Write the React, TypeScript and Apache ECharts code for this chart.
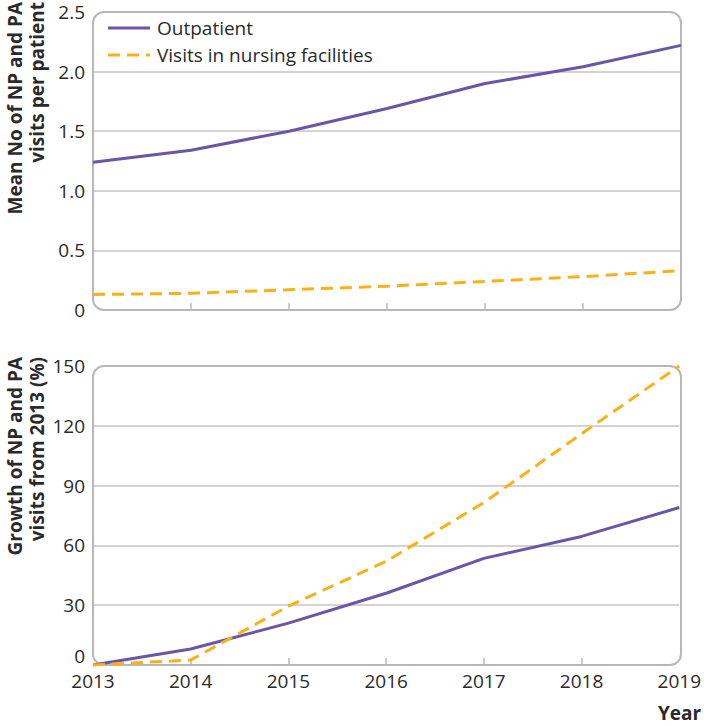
import React, { useEffect, useRef } from "react";
import * as echarts from "echarts";

const years = ["2013", "2014", "2015", "2016", "2017", "2018", "2019"];
const outpatientMean = [1.24, 1.34, 1.5, 1.69, 1.9, 2.04, 2.22];
const nursingMean = [0.13, 0.14, 0.17, 0.2, 0.24, 0.28, 0.33];
const outpatientGrowth = [0, 8, 21, 36, 53.5, 64.5, 79];
const nursingGrowth = [0, 2.5, 29.5, 52, 81.5, 116, 150];
const seriesNames = ["Outpatient", "Visits in nursing facilities"];

const PURPLE = "#6a56a8";
const ORANGE = "#fbb017";
const FRAME = "#b8b8b8";
const GRIDC = "#c4c4c4";
const TXT = "#2a2a2a";
const FONT = "'Open Sans', 'Noto Sans', sans-serif";
const FS = 19;
const DASH = [12, 7];

const G1 = { left: 93, top: 12, width: 588, height: 298 };
const G2 = { left: 93, top: 366, width: 588, height: 299 };

export default function App() {
  const ref = useRef<HTMLDivElement>(null);
  useEffect(() => {
    if (!ref.current) return;
    const chart = echarts.init(ref.current, undefined, { renderer: "svg" });
    const xAxisBase = (gridIndex: number, showLabels: boolean) => ({
      type: "category",
      gridIndex,
      data: years,
      boundaryGap: false,
      axisLine: { show: false },
      axisTick: {
        show: true,
        inside: true,
        length: 7,
        interval: (i: number) => i > 0 && i < years.length - 1,
        lineStyle: { color: FRAME, width: 1.5 },
      },
      axisLabel: {
        show: showLabels,
        color: TXT,
        fontSize: FS,
        lineHeight: FS,
        fontFamily: FONT,
        margin: 6,
        interval: 0,
      },
      splitLine: { show: false },
    });
    const splitLine = {
      show: true,
      lineStyle: { color: GRIDC, width: 1.5 },
      showMinLine: false,
      showMaxLine: false,
    };
    const option: any = {
      animation: false,
      textStyle: { fontFamily: FONT },
      grid: [
        { ...G1, containLabel: false },
        { ...G2, containLabel: false },
      ],
      xAxis: [xAxisBase(0, false), xAxisBase(1, true)],
      yAxis: [
        {
          type: "value",
          gridIndex: 0,
          min: 0,
          max: 2.5,
          interval: 0.5,
          axisLine: { show: false },
          axisTick: { show: false },
          axisLabel: {
            color: TXT,
            fontSize: FS,
            lineHeight: FS,
            fontFamily: FONT,
            margin: 8,
            formatter: (v: number) => (v === 0 ? "0" : v.toFixed(1)),
          },
          splitLine,
        },
        {
          type: "value",
          gridIndex: 1,
          min: 0,
          max: 150,
          interval: 30,
          axisLine: { show: false },
          axisTick: { show: false },
          axisLabel: {
            color: TXT,
            fontSize: FS,
            lineHeight: FS,
            fontFamily: FONT,
            margin: 8,
            verticalAlignMinLabel: "bottom",
          },
          splitLine,
        },
      ],
      series: [
        {
          name: seriesNames[0],
          type: "line",
          xAxisIndex: 0,
          yAxisIndex: 0,
          data: outpatientMean,
          symbol: "none",
          lineStyle: { color: PURPLE, width: 3 },
          itemStyle: { color: PURPLE },
          z: 5,
        },
        {
          name: seriesNames[1],
          type: "line",
          xAxisIndex: 0,
          yAxisIndex: 0,
          data: nursingMean,
          symbol: "none",
          lineStyle: { color: ORANGE, width: 3, type: DASH },
          itemStyle: { color: ORANGE },
          z: 5,
        },
        {
          name: seriesNames[0],
          type: "line",
          xAxisIndex: 1,
          yAxisIndex: 1,
          data: outpatientGrowth,
          symbol: "none",
          lineStyle: { color: PURPLE, width: 3 },
          itemStyle: { color: PURPLE },
          z: 5,
        },
        {
          name: seriesNames[1],
          type: "line",
          xAxisIndex: 1,
          yAxisIndex: 1,
          data: nursingGrowth,
          symbol: "none",
          lineStyle: { color: ORANGE, width: 3, type: DASH },
          itemStyle: { color: ORANGE },
          z: 5,
        },
      ],
      graphic: [
        {
          type: "rect",
          z: 1,
          silent: true,
          shape: { x: G1.left, y: G1.top, width: G1.width, height: G1.height, r: 11 },
          style: { fill: "none", stroke: FRAME, lineWidth: 2 },
        },
        {
          type: "rect",
          z: 1,
          silent: true,
          shape: { x: G2.left, y: G2.top, width: G2.width, height: G2.height, r: 11 },
          style: { fill: "none", stroke: FRAME, lineWidth: 2 },
        },
        // legend
        {
          type: "line",
          z: 10,
          shape: { x1: 108, y1: 28, x2: 150, y2: 28 },
          style: { stroke: PURPLE, lineWidth: 3 },
        },
        {
          type: "text",
          z: 10,
          x: 157,
          y: 28,
          style: { text: seriesNames[0], font: `${FS}px ${FONT}`, fill: TXT, align: "left", verticalAlign: "middle" },
        },
        {
          type: "line",
          z: 10,
          shape: { x1: 108, y1: 55, x2: 150, y2: 55 },
          style: { stroke: ORANGE, lineWidth: 3, lineDash: DASH },
        },
        {
          type: "text",
          z: 10,
          x: 157,
          y: 55,
          style: { text: seriesNames[1], font: `${FS}px ${FONT}`, fill: TXT, align: "left", verticalAlign: "middle" },
        },
        // axis titles
        {
          type: "text",
          x: 4,
          y: 2,
          rotation: Math.PI / 2,
          style: {
            text: "Mean No of NP and PA\nvisits per patient",
            font: `bold ${FS}px ${FONT}`,
            fill: TXT,
            align: "right",
            verticalAlign: "top",
            lineHeight: 22,
          },
        },
        {
          type: "text",
          x: 4,
          y: 357,
          rotation: Math.PI / 2,
          style: {
            text: "Growth of NP and PA\nvisits from 2013 (%)",
            font: `bold ${FS}px ${FONT}`,
            fill: TXT,
            align: "right",
            verticalAlign: "top",
            lineHeight: 22,
          },
        },
        {
          type: "text",
          x: 658,
          y: 703,
          style: {
            text: "Year",
            font: `bold ${FS}px ${FONT}`,
            fill: TXT,
            align: "left",
            verticalAlign: "top",
          },
        },
      ],
    };
    chart.setOption(option);
    return () => chart.dispose();
  }, []);
  return (
    <div
      ref={ref}
      style={{ position: "fixed", left: 0, top: 0, width: 704, height: 726, background: "#fff" }}
    />
  );
}
